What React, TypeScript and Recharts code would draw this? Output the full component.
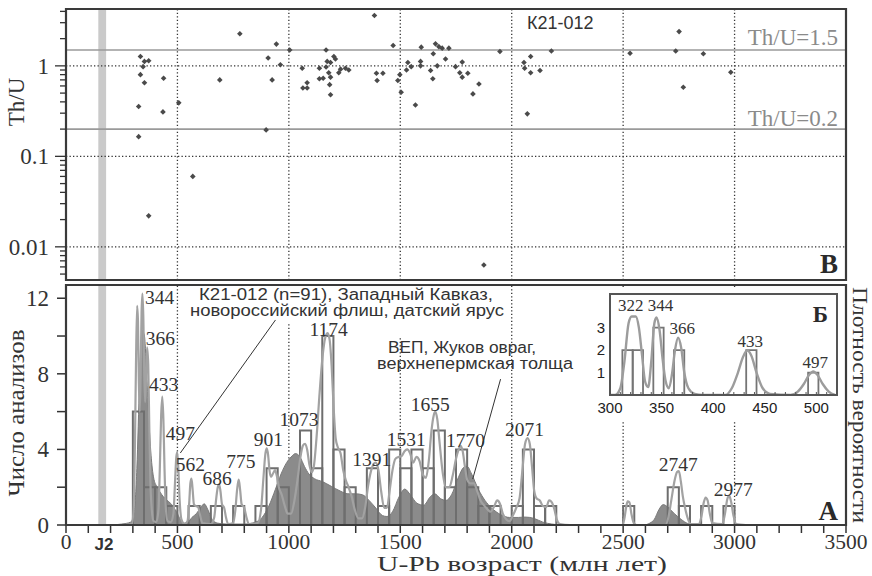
import React from 'react';
import { ComposedChart, XAxis, YAxis, Line, Area, Scatter, ReferenceArea, ReferenceLine } from 'recharts';

const SERIF = '"Liberation Serif", "Times New Roman", serif';
const SANS = '"Liberation Sans", Arial, sans-serif';
const INK = '#333';

// ---------- data ----------
// Th/U vs age (Ma)
const thuPoints: [number, number][] = [
  [334, 1.27], [334, 0.8], [346, 0.98], [352, 1.12], [371, 1.14], [352, 0.65], [326, 0.355], [326, 0.165],
  [371, 0.022], [438, 0.73], [435, 0.31], [506, 0.39], [569, 0.06], [690, 0.7], [780, 2.26], [898, 0.196],
  [907, 1.22], [925, 0.7], [944, 1.74], [962, 1.03], [1004, 1.5], [1060, 0.94], [1063, 0.57], [1082, 0.57],
  [1082, 0.65], [1137, 0.94], [1137, 0.72], [1154, 0.73], [1167, 1.5], [1172, 1.12], [1179, 0.84], [1167, 0.97],
  [1187, 1.09], [1187, 0.75], [1183, 0.62], [1187, 0.48], [1202, 1.27], [1209, 1.19], [1224, 0.84], [1232, 0.92],
  [1254, 0.94], [1269, 0.9], [1384, 3.6], [1393, 0.83], [1396, 0.69], [1422, 0.83], [1468, 1.68], [1489, 0.69],
  [1498, 0.8], [1504, 0.51], [1528, 0.9], [1534, 1.09], [1549, 0.98], [1568, 0.37], [1591, 1.12], [1594, 1.61],
  [1591, 1.0], [1636, 0.89], [1646, 0.72], [1648, 1.36], [1658, 1.75], [1666, 1.0], [1673, 1.63], [1688, 1.57],
  [1718, 1.57], [1703, 1.19], [1748, 0.98], [1778, 1.1], [1767, 0.84], [1778, 0.75], [1803, 0.83], [1853, 0.63],
  [1826, 0.49], [1875, 0.0063], [1947, 1.44], [2055, 1.09], [2085, 1.27], [2058, 0.94], [2085, 0.84], [2127, 0.89],
  [2070, 0.295], [2178, 1.46], [2531, 1.38], [2751, 2.39], [2736, 1.46], [2770, 0.58], [2860, 1.36], [2983, 0.85],
];

// histogram bins: [from, to, count]
const histBins: [number, number, number][] = [
  [300, 350, 6], [350, 400, 2], [400, 450, 2], [450, 500, 1], [550, 600, 1], [650, 700, 1], [750, 800, 1],
  [850, 900, 1], [900, 950, 3], [950, 1000, 2], [1050, 1100, 5], [1100, 1150, 3], [1150, 1200, 10],
  [1200, 1250, 4], [1250, 1300, 2], [1350, 1400, 3], [1400, 1450, 1], [1450, 1500, 4], [1500, 1550, 3],
  [1550, 1600, 4], [1600, 1650, 3], [1650, 1700, 5], [1700, 1750, 2], [1750, 1800, 4], [1800, 1850, 2],
  [1850, 1900, 1], [1900, 1950, 1], [2000, 2050, 1], [2050, 2100, 4], [2100, 2150, 1], [2150, 2200, 1],
  [2500, 2550, 1], [2700, 2750, 2], [2750, 2800, 1], [2850, 2900, 1], [2950, 3000, 1],
];

// probability density, sample K21-012: [age, value]
const pdpCurve: [number, number][] = [
  [200, 0], [250, 0], [295, 0.05], [303, 0.8], [309, 4], [314, 8.5], [319, 11.6], [323, 10.8], [327, 7.5],
  [331, 6], [335, 8], [339, 11.2], [343, 12.25], [347, 11], [351, 8], [355, 6.5], [359, 7.8], [364, 9.4],
  [369, 8.5], [374, 5], [379, 2.2], [385, 0.8], [393, 0.2], [405, 0.15], [415, 0.8], [421, 3], [427, 5.8],
  [432, 6.8], [437, 5.6], [442, 3], [448, 0.9], [456, 0.2], [470, 0.15], [482, 0.6], [489, 2.2], [495, 3.6],
  [499, 3.85], [504, 3], [510, 1.3], [518, 0.3], [532, 0.05], [545, 0.2], [553, 1.2], [558, 2.2], [563, 2.45],
  [568, 1.9], [574, 1.1], [583, 1.0], [593, 0.95], [602, 0.5], [612, 0.1], [650, 0.05], [665, 0.4], [674, 1.4],
  [681, 2.0], [687, 2.15], [693, 1.8], [700, 1.1], [710, 0.9], [718, 0.4], [728, 0.05], [750, 0.1], [760, 0.8],
  [768, 1.9], [775, 2.4], [781, 1.9], [788, 1.1], [800, 0.9], [810, 0.4], [820, 0.05], [860, 0.1], [875, 0.8],
  [886, 2.5], [895, 3.8], [901, 4.05], [907, 3.7], [913, 2.9], [920, 2.55], [930, 2.75], [938, 2.9], [946, 2.6],
  [955, 2.0], [968, 1.6], [982, 1.0], [995, 0.6], [1010, 0.6], [1025, 1.3], [1040, 2.5], [1052, 3.6], [1063, 4.2],
  [1073, 4.3], [1082, 4.0], [1092, 3.2], [1102, 2.8], [1112, 3.1], [1124, 4.6], [1138, 7.0], [1152, 9.0],
  [1163, 9.9], [1174, 10.15], [1183, 9.8], [1192, 8.4], [1201, 6.2], [1210, 4.6], [1220, 4.1], [1232, 3.8],
  [1244, 2.9], [1256, 2.35], [1268, 2.0], [1282, 1.5], [1296, 0.8], [1312, 0.35], [1328, 0.35], [1342, 0.9],
  [1356, 2.1], [1372, 3.0], [1389, 3.3], [1402, 2.9], [1414, 1.8], [1428, 0.9], [1440, 0.9], [1452, 1.8],
  [1465, 2.9], [1478, 3.5], [1492, 3.6], [1506, 3.65], [1519, 3.9], [1531, 4.0], [1544, 3.8], [1558, 3.3],
  [1572, 3.6], [1586, 3.4], [1600, 2.7], [1615, 2.5], [1628, 3.4], [1640, 5.0], [1650, 5.8], [1657, 6.0],
  [1666, 5.6], [1676, 4.4], [1690, 2.8], [1704, 2.0], [1720, 2.0], [1735, 2.6], [1750, 3.5], [1762, 4.0],
  [1770, 4.2], [1780, 3.9], [1790, 3.1], [1800, 2.4], [1815, 2.2], [1830, 2.2], [1845, 1.8], [1860, 1.3],
  [1875, 1.05], [1890, 0.85], [1905, 0.7], [1920, 0.95], [1935, 1.3], [1948, 1.1], [1960, 0.6], [1975, 0.3],
  [1990, 0.2], [2005, 0.5], [2020, 0.9], [2035, 1.4], [2048, 2.9], [2060, 4.3], [2071, 4.6], [2081, 4.3],
  [2091, 3.1], [2101, 1.8], [2112, 1.4], [2126, 1.3], [2140, 1.0], [2155, 0.95], [2168, 1.3], [2180, 1.2],
  [2191, 0.85], [2202, 0.3], [2216, 0.05], [2260, 0], [2495, 0], [2505, 0.3], [2513, 0.9], [2520, 1.25],
  [2528, 1.2], [2537, 0.6], [2548, 0.1], [2560, 0], [2690, 0], [2703, 0.4], [2716, 1.3], [2730, 2.3],
  [2742, 2.8], [2750, 2.85], [2759, 2.3], [2768, 1.5], [2778, 0.9], [2790, 0.35], [2803, 0.05], [2840, 0.05],
  [2852, 0.5], [2862, 1.2], [2870, 1.45], [2879, 1.3], [2889, 0.6], [2900, 0.1], [2945, 0.05], [2957, 0.6],
  [2967, 1.35], [2976, 1.55], [2985, 1.2], [2995, 0.5], [3008, 0.05], [3050, 0],
];

// density, ВЕП (Жуков овраг): [age, value]
const vepCurve: [number, number][] = [
  [200, 0], [250, 0.05], [290, 0.15], [305, 0.6], [318, 3], [330, 7.5], [342, 10.3], [352, 10.0], [362, 8],
  [372, 5.5], [383, 3.5], [395, 2.4], [410, 2.0], [430, 1.6], [455, 1.3], [480, 1.0], [500, 0.6], [515, 0.25],
  [530, 0.1], [548, 0.15], [565, 0.4], [585, 0.6], [603, 0.9], [620, 1.12], [637, 0.8], [655, 0.3], [680, 0.1],
  [720, 0.05], [800, 0.05], [850, 0.15], [880, 0.4], [910, 1.0], [940, 1.9], [965, 2.7], [990, 3.3], [1010, 3.6],
  [1030, 3.78], [1050, 3.6], [1070, 3.1], [1090, 2.7], [1115, 2.45], [1150, 2.3], [1190, 2.05], [1230, 1.8],
  [1265, 1.65], [1300, 1.65], [1330, 1.6], [1360, 1.3], [1390, 0.9], [1420, 0.5], [1440, 0.45], [1465, 0.7],
  [1495, 1.5], [1520, 1.9], [1545, 1.6], [1575, 1.15], [1605, 1.05], [1635, 1.5], [1655, 1.65], [1680, 1.4],
  [1705, 1.3], [1730, 1.6], [1760, 2.5], [1785, 3.05], [1800, 3.1], [1820, 2.7], [1850, 1.9], [1880, 1.3],
  [1910, 0.9], [1950, 0.55], [1990, 0.4], [2030, 0.4], [2060, 0.42], [2100, 0.35], [2140, 0.15], [2180, 0.05],
  [2230, 0], [2590, 0], [2620, 0.1], [2640, 0.3], [2660, 0.8], [2680, 1.08], [2700, 0.95], [2730, 0.6],
  [2760, 0.3], [2790, 0.08], [2830, 0],
];

// inset (300–520 Ma)
const insetBins: [number, number, number][] = [
  [312, 322, 2], [322, 332, 2], [342, 352, 3], [362, 372, 2], [432, 442, 2], [492, 502, 1],
];
const insetCurve: [number, number][] = [
  [300, 0], [305, 0], [310, 0.3], [314, 1.5], [318, 3.2], [321, 3.5], [325, 3.5], [328, 3.0], [331, 1.8],
  [334, 0.6], [337, 0.35], [340, 1.5], [343, 3.2], [345, 3.45], [348, 2.9], [351, 1.6], [354, 0.6], [357, 0.3],
  [360, 0.9], [363, 2.0], [366, 2.55], [369, 2.1], [372, 1.0], [376, 0.3], [382, 0.05], [390, 0], [412, 0],
  [418, 0.3], [424, 1.0], [429, 1.7], [433, 1.98], [437, 1.75], [442, 1.0], [448, 0.3], [455, 0.05], [475, 0],
  [482, 0.15], [488, 0.5], [493, 0.9], [497, 1.05], [501, 0.9], [506, 0.5], [512, 0.15], [518, 0],
];

// peak age labels (text, anchor age, anchor height)
const peakLabels: [string, number, number][] = [
  ['344', 420, 11.69], ['366', 423, 9.52], ['433', 438, 7.09], ['497', 513, 4.5], ['562', 558, 2.86],
  ['686', 678, 2.12], ['775', 785, 3.02], ['901', 908, 4.18], ['1073', 1045, 5.24], ['1174', 1179, 10.0],
  ['1391', 1372, 3.12], ['1531', 1527, 4.18], ['1655', 1634, 6.03], ['1770', 1793, 4.13], ['2071', 2057, 4.71],
  ['2747', 2747, 2.86], ['2977', 2994, 1.53],
];
const insetLabels: [string, number, number][] = [
  ['322', 320, 3.74], ['344', 349, 3.74], ['366', 370, 2.72], ['433', 436, 2.13], ['497', 499, 1.22],
];

const logTicks = [0.005, 0.006, 0.007, 0.008, 0.009, 0.01, 0.02, 0.03, 0.04, 0.05, 0.06, 0.07, 0.08, 0.09,
  0.1, 0.2, 0.3, 0.4, 0.5, 0.6, 0.7, 0.8, 0.9, 1, 2, 3, 4];
const logMajor = [0.01, 0.1, 1];
const ageTicks = Array.from({ length: 36 }, (_, i) => i * 100);
const gridAges = [500, 1000, 1500, 2000, 2500, 3000];
const countTicks = [0, 2, 4, 6, 8, 10, 12];
const insetTicks = Array.from({ length: 23 }, (_, i) => 300 + i * 10);

// ---------- helpers ----------
const toRows = (p: [number, number][]) => p.map(([x, y]) => ({ x, y }));
const toLabelRows = (p: [string, number, number][]) => p.map(([label, x, y]) => ({ x, y, label }));

const Diamond = (p: any) => {
  const { cx, cy } = p;
  const s = 2.8;
  return <path d={`M${cx},${cy - s}L${cx + s},${cy}L${cx},${cy + s}L${cx - s},${cy}Z`} fill="#4a4a4a" />;
};
const makeText = (size: number, family: string) => (p: any) => (
  <text x={p.cx} y={p.cy} textAnchor="middle" fontFamily={family} fontSize={size} fill={INK}>{p.payload.label}</text>
);
const PeakText = makeText(19.5, SERIF);
const InsetText = makeText(17, SERIF);

const LogTick = (p: any) => {
  const { x, y, payload } = p;
  const v = payload.value;
  const major = logMajor.includes(v);
  return (
    <g>
      <line x1={x} x2={x - (major ? 11 : 6)} y1={y} y2={y} stroke={INK} strokeWidth={1.3} />
      {major && (
        <text x={x - 17} y={y + 8} textAnchor="end" fontFamily={SERIF} fontSize={23} fill={INK}>{String(v)}</text>
      )}
    </g>
  );
};
const AgeTick = (p: any) => {
  const { x, y, payload } = p;
  if (payload.value % 500 !== 0) return <g />;
  return <text x={x} y={y + 16} textAnchor="middle" fontFamily={SERIF} fontSize={21.5} fill={INK}>{payload.value}</text>;
};
const CountTick = (p: any) => {
  const { x, y, payload } = p;
  if (payload.value % 4 !== 0) return <g />;
  return <text x={x} y={y + 8} textAnchor="end" fontFamily={SERIF} fontSize={23} fill={INK}>{payload.value}</text>;
};
const InsetXTick = (p: any) => {
  const { x, y, payload } = p;
  const lbl = payload.value % 50 === 0;
  return (
    <g>
      <line x1={x} x2={x} y1={y} y2={y - 3} stroke="#555" strokeWidth={1} />
      {lbl && <text x={x} y={y + 18} textAnchor="middle" fontFamily={SANS} fontSize={15} fill="#222">{payload.value}</text>}
    </g>
  );
};

const FRAME = '#3a3a3a';

export default function App() {
  const thuRows = toRows(thuPoints);
  const pdpRows = toRows(pdpCurve);
  const vepRows = toRows(vepCurve);
  const insetRows = toRows(insetCurve);
  const peakRows = toLabelRows(peakLabels);
  const insetLabelRows = toLabelRows(insetLabels);

  return (
    <div style={{ position: 'absolute', left: 0, top: 0, width: 872, height: 576, background: '#fff', overflow: 'hidden' }}>
      {/* Panel B: Th/U */}
      <div style={{ position: 'absolute', left: 0, top: 0 }}>
        <ComposedChart width={872} height={290} margin={{ top: 9, right: 26, bottom: 10, left: 0 }}>
          <XAxis type="number" dataKey="x" domain={[0, 3500]} allowDataOverflow hide height={0} />
          <YAxis type="number" dataKey="y" scale="log" domain={[0.0043, 4.25]} allowDataOverflow ticks={logTicks}
            interval={0} tickSize={0} tickMargin={0} tickLine={false} axisLine={false} width={66}
            tick={(p: any) => <LogTick {...p} />} />
          <ReferenceArea x1={145} x2={180} y1={0.0043} y2={4.25} fill="#cacaca" fillOpacity={1} stroke="none" zIndex={-150} />
          {gridAges.map((a) => (
            <ReferenceLine key={'v' + a} x={a} stroke={INK} strokeWidth={1.3} strokeDasharray="1.3 2.2" zIndex={-100} />
          ))}
          {logMajor.map((v) => (
            <ReferenceLine key={'h' + v} y={v} stroke={INK} strokeWidth={1.3} strokeDasharray="1.3 2.2" zIndex={-100} />
          ))}
          <ReferenceLine y={1.5} stroke="#9a9a9a" strokeWidth={1.6} zIndex={-90} />
          <ReferenceLine y={0.2} stroke="#9a9a9a" strokeWidth={1.6} zIndex={-90} />
          <Scatter data={thuRows} shape={Diamond} isAnimationActive={false} zIndex={600} />
          <ReferenceArea x1={0} x2={3500} y1={0.0043} y2={4.25} fill="none" stroke={FRAME} strokeWidth={2.2} zIndex={700} />
        </ComposedChart>
      </div>

      {/* Panel A: histogram + densities */}
      <div style={{ position: 'absolute', left: 0, top: 280 }}>
        <ComposedChart width={872} height={296} margin={{ top: 5, right: 26, bottom: 0, left: 0 }}>
          <XAxis type="number" dataKey="x" domain={[0, 3500]} allowDataOverflow ticks={ageTicks} interval={0}
            tickSize={8} tickMargin={0} tickLine={{ stroke: INK, strokeWidth: 1.5 }} axisLine={{ stroke: FRAME, strokeWidth: 2.2 }}
            height={51} tick={(p: any) => <AgeTick {...p} />} />
          <YAxis type="number" dataKey="y" domain={[0, 12.7]} allowDataOverflow ticks={countTicks} interval={0}
            tickSize={9} tickMargin={8} tickLine={{ stroke: INK, strokeWidth: 1.5 }} axisLine={false} width={66}
            tick={(p: any) => <CountTick {...p} />} />
          <ReferenceArea x1={145} x2={180} y1={0} y2={12.7} fill="#cacaca" fillOpacity={1} stroke="none" zIndex={-150} />
          <ReferenceLine segment={[{ x: 500, y: 0 }, { x: 500, y: 12.7 }]} stroke={INK} strokeWidth={1.3} strokeDasharray="1.3 2.2" zIndex={-100} />
          <ReferenceLine segment={[{ x: 1000, y: 0 }, { x: 1000, y: 10.7 }]} stroke={INK} strokeWidth={1.3} strokeDasharray="1.3 2.2" zIndex={-100} />
          <ReferenceLine segment={[{ x: 1500, y: 0 }, { x: 1500, y: 10.0 }]} stroke={INK} strokeWidth={1.3} strokeDasharray="1.3 2.2" zIndex={-100} />
          <ReferenceLine segment={[{ x: 2000, y: 0 }, { x: 2000, y: 12.7 }]} stroke={INK} strokeWidth={1.3} strokeDasharray="1.3 2.2" zIndex={-100} />
          <ReferenceLine segment={[{ x: 2500, y: 0 }, { x: 2500, y: 12.7 }]} stroke={INK} strokeWidth={1.3} strokeDasharray="1.3 2.2" zIndex={-100} />
          <ReferenceLine segment={[{ x: 3000, y: 0 }, { x: 3000, y: 12.7 }]} stroke={INK} strokeWidth={1.3} strokeDasharray="1.3 2.2" zIndex={-100} />
          <Area data={vepRows} dataKey="y" type="monotone" fill="#8b8b8b" fillOpacity={1} stroke="#7a7a7a" strokeWidth={1}
            isAnimationActive={false} dot={false} activeDot={false} zIndex={100} />
          {histBins.map(([a, b, n]) => (
            <ReferenceArea key={'b' + a} x1={a} x2={b} y1={0} y2={n} fill="none" stroke="#6e6e6e" strokeWidth={2} zIndex={150} />
          ))}
          <Line data={pdpRows} dataKey="y" type="monotone" stroke="#a2a2a2" strokeWidth={2.2} dot={false} activeDot={false}
            isAnimationActive={false} zIndex={400} />
          <ReferenceLine segment={[{ x: 940, y: 10.85 }, { x: 513, y: 3.81 }]} stroke={INK} strokeWidth={1} zIndex={450} />
          <ReferenceLine segment={[{ x: 1950, y: 7.72 }, { x: 1825, y: 2.43 }]} stroke={INK} strokeWidth={1} zIndex={450} />
          <Scatter data={peakRows} shape={PeakText} isAnimationActive={false} zIndex={600} />
          <ReferenceArea x1={0} x2={3500} y1={0} y2={12.7} fill="none" stroke={FRAME} strokeWidth={2.2} zIndex={700} />
        </ComposedChart>
      </div>

      {/* Inset Б */}
      <div style={{ position: 'absolute', left: 580, top: 288, width: 262, height: 132, background: '#fff' }}>
        <ComposedChart width={262} height={132} margin={{ top: 6, right: 5, bottom: 0, left: 0 }}>
          <XAxis type="number" dataKey="x" domain={[300, 520]} allowDataOverflow ticks={insetTicks} interval={0}
            tickSize={0} tickMargin={0} tickLine={false} axisLine={false} height={25}
            tick={(p: any) => <InsetXTick {...p} />} />
          <YAxis type="number" dataKey="y" domain={[0, 4.5]} allowDataOverflow ticks={[1, 2, 3]} interval={0}
            tickSize={0} tickMargin={5} tickLine={false} axisLine={false} width={30}
            tick={{ fontFamily: SANS, fontSize: 15, fill: '#222' }} />
          {insetBins.map(([a, b, n]) => (
            <ReferenceArea key={'ib' + a} x1={a} x2={b} y1={0} y2={n} fill="none" stroke="#757575" strokeWidth={1.8} zIndex={150} />
          ))}
          <Line data={insetRows} dataKey="y" type="monotone" stroke="#9c9c9c" strokeWidth={2.4} dot={false} activeDot={false}
            isAnimationActive={false} zIndex={400} />
          <Scatter data={insetLabelRows} shape={InsetText} isAnimationActive={false} zIndex={600} />
          <ReferenceArea x1={300} x2={520} y1={0} y2={4.5} fill="none" stroke="#555" strokeWidth={2} zIndex={700} />
        </ComposedChart>
      </div>

      {/* text overlay */}
      <svg width={872} height={576} style={{ position: 'absolute', left: 0, top: 0, pointerEvents: 'none' }}>
        <text x={24} y={102} transform="rotate(-90 24 102)" textAnchor="middle" fontFamily={SERIF} fontSize={23} fill={INK}>Th/U</text>
        <text x={527} y={29} fontFamily={SANS} fontSize={18} fill={INK}>К21-012</text>
        <text x={838} y={45} textAnchor="end" fontFamily={SERIF} fontSize={23} fill="#8a8a8a">Th/U=1.5</text>
        <text x={838} y={126} textAnchor="end" fontFamily={SERIF} fontSize={23} fill="#8a8a8a">Th/U=0.2</text>
        <text x={838} y={273} textAnchor="end" fontFamily={SERIF} fontSize={27} fontWeight="bold" fill="#2a2a2a">В</text>

        <text x={24} y={413} transform="rotate(-90 24 413)" textAnchor="middle" fontFamily={SERIF} fontSize={23} fill={INK}
          textLength={167} lengthAdjust="spacingAndGlyphs">Число анализов</text>
        <text x={853} y={405} transform="rotate(90 853 405)" textAnchor="middle" fontFamily={SERIF} fontSize={22} fill={INK}
          textLength={236} lengthAdjust="spacingAndGlyphs">Плотность вероятности</text>
        <text x={346} y={300} textAnchor="middle" fontFamily={SANS} fontSize={16} fill={INK}
          textLength={294} lengthAdjust="spacingAndGlyphs">К21-012 (n=91), Западный Кавказ,</text>
        <text x={347} y={316} textAnchor="middle" fontFamily={SANS} fontSize={16} fill={INK}
          textLength={314} lengthAdjust="spacingAndGlyphs">новороссийский флиш, датский ярус</text>
        <text x={462} y={353} textAnchor="middle" fontFamily={SANS} fontSize={16} fill={INK}
          textLength={148} lengthAdjust="spacingAndGlyphs">ВЕП, Жуков овраг,</text>
        <text x={475} y={369} textAnchor="middle" fontFamily={SANS} fontSize={16} fill={INK}
          textLength={196} lengthAdjust="spacingAndGlyphs">верхнепермская толща</text>
        <text x={838} y={520} textAnchor="end" fontFamily={SERIF} fontSize={27} fontWeight="bold" fill="#2a2a2a">А</text>
        <text x={828} y={322} textAnchor="end" fontFamily={SERIF} fontSize={23} fontWeight="bold" fill="#2a2a2a">Б</text>
        <text x={104} y={550} textAnchor="middle" fontFamily={SANS} fontSize={17} fontWeight="bold" fill={INK}>J2</text>
        <text x={522} y={571} textAnchor="middle" fontFamily={SERIF} fontSize={21} fill={INK}
          textLength={290} lengthAdjust="spacingAndGlyphs">U-Pb возраст (млн лет)</text>
      </svg>
    </div>
  );
}
